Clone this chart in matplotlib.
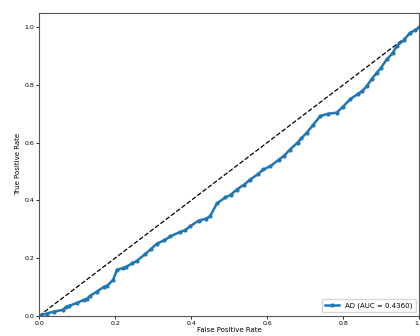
import matplotlib.pyplot as plt

# ROC points for the AD class
fpr = [0.0, 0.02, 0.04, 0.063, 0.07, 0.08, 0.1, 0.117, 0.125, 0.135, 0.152,
       0.17, 0.18, 0.195, 0.205, 0.22, 0.23, 0.245, 0.257, 0.28, 0.295, 0.31,
       0.33, 0.345, 0.37, 0.385, 0.397, 0.42, 0.44, 0.45, 0.468, 0.49,
       0.505, 0.52, 0.54, 0.555, 0.575, 0.59, 0.608, 0.63, 0.645, 0.66,
       0.68, 0.69, 0.704, 0.72, 0.74, 0.76, 0.783, 0.8, 0.818, 0.84, 0.85,
       0.862, 0.875, 0.889, 0.9, 0.915, 0.93, 0.941, 0.96, 0.976, 0.99, 1.0]
tpr = [0.0, 0.008, 0.015, 0.021, 0.03, 0.035, 0.045, 0.055, 0.058, 0.07, 0.084,
       0.1, 0.105, 0.125, 0.16, 0.165, 0.17, 0.182, 0.19, 0.215, 0.232, 0.25,
       0.262, 0.275, 0.29, 0.297, 0.31, 0.33, 0.337, 0.345, 0.39, 0.41,
       0.42, 0.4375, 0.455, 0.472, 0.49, 0.507, 0.518, 0.54, 0.555, 0.576,
       0.6, 0.615, 0.634, 0.66, 0.692, 0.7, 0.704, 0.725, 0.75, 0.77, 0.778,
       0.796, 0.82, 0.843, 0.86, 0.889, 0.91, 0.935, 0.955, 0.981, 0.99, 1.0]
auc_value = 0.4360
label = 'AD (AUC = %.4f)' % auc_value

fig = plt.figure(figsize=(4.2, 3.36), dpi=100)
ax = fig.add_axes([0.093, 0.06, 0.905, 0.902])

ax.plot([0, 1], [0, 1], 'k--', linewidth=0.9)
ax.plot(fpr, tpr, color='#1f77b4', marker='.', markersize=4,
        linewidth=1.8, label=label)

ax.set_xlim(0, 1)
ax.set_ylim(0, 1.05)
ax.set_xticks([0, 0.2, 0.4, 0.6, 0.8, 1.0])
ax.set_yticks([0, 0.2, 0.4, 0.6, 0.8, 1.0])
ax.tick_params(labelsize=4.5, length=2, width=0.6, pad=1.5)
ax.set_xlabel('False Positive Rate', fontsize=5, labelpad=1)
ax.set_ylabel('True Positive Rate', fontsize=5, labelpad=2)
for s in ax.spines.values():
    s.set_linewidth(0.8)
    s.set_color('#555555')

ax.legend(loc='lower right', fontsize=5, handlelength=2.0, frameon=True,
          borderpad=0.5)

plt.savefig('out.png', dpi=100)
